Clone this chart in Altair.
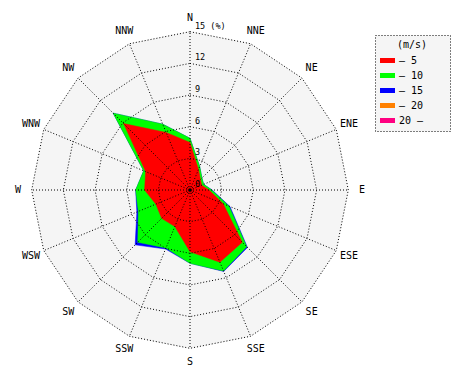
import altair as alt
import pandas as pd
import numpy as np

# ---- data (percent frequency per direction) ----
directions = ["N", "NNE", "NE", "ENE", "E", "ESE", "SE", "SSE",
              "S", "SSW", "SW", "WSW", "W", "WNW", "NW", "NNW"]
band_labels = ["\u2013 5", "\u2013 10", "\u2013 15", "\u2013 20", "20 \u2013"]
band_colors = ["#ff0000", "#00ff00", "#0000ff", "#ff8000", "#ff0080"]

speed_0_5 = [4.5, 2.1, 1.4, 1.2, 1.8, 3.4, 7.0, 7.4, 5.85, 3.75, 3.8, 3.5, 4.3, 4.55, 8.9, 5.9]
speed_5_10 = [0.4, 0.3, 0.2, 0.2, 0.25, 0.6, 0.6, 0.9, 1.1, 2.2, 3.2, 1.8, 0.85, 0.2, 1.4, 0.85]
speed_10_15 = [0.0, 0.0, 0.0, 0.0, 0.05, 0.1, 0.1, 0.05, 0.0, 0.1, 0.35, 0.15, 0.0, 0.0, 0.0, 0.0]
speed_15_20 = [0.0] * 16
speed_20_up = [0.0] * 16
bands = [speed_0_5, speed_5_10, speed_10_15, speed_15_20, speed_20_up]

ring_values = [0, 3, 6, 9, 12, 15]
ring_labels = ["0", "3", "6", "9", "12", "15 (%)"]
label_radius = 16.3

FONT = "DejaVu Sans Mono"

# ---- tables ----
rows = []
cum = np.zeros(16)
for b, vals in enumerate(bands):
    cum = cum + np.array(vals)
    for i in range(17):
        rows.append({"band": band_labels[b], "bi": b, "idx": i,
                     "ang": (i % 16) * 22.5, "r": float(cum[i % 16])})
poly = pd.DataFrame(rows)

ring_rows = []
for rv in ring_values[1:]:
    for i in range(17):
        ring_rows.append({"ring": rv, "idx": i, "ang": (i % 16) * 22.5, "r": rv})
rings = pd.DataFrame(ring_rows)

spokes = pd.DataFrame({"dir": directions,
                       "ang": [i * 22.5 for i in range(16)],
                       "r": [ring_values[-1]] * 16})
dirlab = pd.DataFrame({"dir": directions,
                       "ang": [i * 22.5 for i in range(16)],
                       "r": [label_radius] * 16})
ticklab = pd.DataFrame({"r": ring_values, "lab": ring_labels})

k = 158.3 / 15.0  # pixels per percent
W, H = 454, 364
cx, cy = 182, 182
xs = alt.Scale(domain=[-cx / k, (W - cx) / k], nice=False, zero=False)
ys = alt.Scale(domain=[-(H - cy) / k, cy / k], nice=False, zero=False)

calc_x = "datum.r * sin(datum.ang * PI / 180)"
calc_y = "datum.r * cos(datum.ang * PI / 180)"

X = alt.X("x:Q", scale=xs, axis=None)
Y = alt.Y("y:Q", scale=ys, axis=None)

color_scale = alt.Scale(domain=band_labels, range=band_colors)
fill_enc = alt.Fill("band:N", scale=color_scale,
                    legend=alt.Legend(
                        title="(m/s)", orient="none", legendX=367, legendY=27,
                        titleFont=FONT, titleFontSize=10, titleFontWeight="normal",
                        titleColor="black", titleAnchor="middle", titlePadding=3,
                        labelFont=FONT, labelFontSize=10, labelColor="black",
                        labelExpr="datum.label + '\u2800\u2800\u2800'",
                        symbolType="M-1,-0.33H1V0.33H-1Z", symbolSize=225,
                        symbolStrokeWidth=0, labelOffset=4, rowPadding=2,
                        padding=5, strokeColor="black",
                        fillColor="#f5f5f5"))
stroke_enc = alt.Stroke("band:N", scale=color_scale, legend=None)

base_rings = alt.Chart(rings).transform_calculate(x=calc_x, y=calc_y)

background = base_rings.transform_filter(f"datum.ring == {ring_values[-1]}").mark_line(
    fill="#f5f5f5", stroke="#f5f5f5", strokeWidth=1
).encode(x=X, y=Y, order="idx:Q")

layers = [background]
for b in reversed(range(len(bands))):
    if sum(bands[b]) == 0:
        continue
    lay = alt.Chart(poly).transform_filter(f"datum.bi == {b}").transform_calculate(
        x=calc_x, y=calc_y
    ).mark_line(strokeWidth=0.5, interpolate="linear").encode(
        x=X, y=Y, order="idx:Q", fill=fill_enc, stroke=stroke_enc
    )
    layers.append(lay)

ring_lines = base_rings.mark_line(stroke="black", strokeWidth=1, strokeDash=[1, 2]).encode(
    x=X, y=Y, order="idx:Q", detail="ring:N"
)

spoke_lines = alt.Chart(spokes).transform_calculate(
    x=calc_x, y=calc_y, x0="0", y0="0"
).mark_rule(stroke="black", strokeWidth=1, strokeDash=[1, 2]).encode(
    x=alt.X("x0:Q", scale=xs, axis=None), y=alt.Y("y0:Q", scale=ys, axis=None),
    x2="x:Q", y2="y:Q"
)

dir_text = alt.Chart(dirlab).transform_calculate(x=calc_x, y=calc_y).mark_text(
    font=FONT, fontSize=10, color="black", align="center", baseline="middle"
).encode(x=X, y=Y, text="dir:N")

tick_text = alt.Chart(ticklab).transform_calculate(x="0", y="datum.r").mark_text(
    font=FONT, fontSize=8.5, color="black", align="left", baseline="bottom", dx=5, dy=-1
).encode(x=X, y=Y, text="lab:N")

center = alt.Chart(pd.DataFrame({"r": [0.0]})).transform_calculate(x="0", y="0").mark_circle(
    color="black", size=14, opacity=1
).encode(x=X, y=Y)

layers += [ring_lines, spoke_lines, tick_text, dir_text, center]

chart = alt.layer(*layers).properties(
    width=W, height=H, padding=0, autosize=alt.AutoSizeParams(type="none"),
    background="white"
).configure_view(strokeWidth=0).configure_legend(strokeDash=[1, 2])

chart.save("out.html", embed_options={"renderer": "svg", "actions": False})
